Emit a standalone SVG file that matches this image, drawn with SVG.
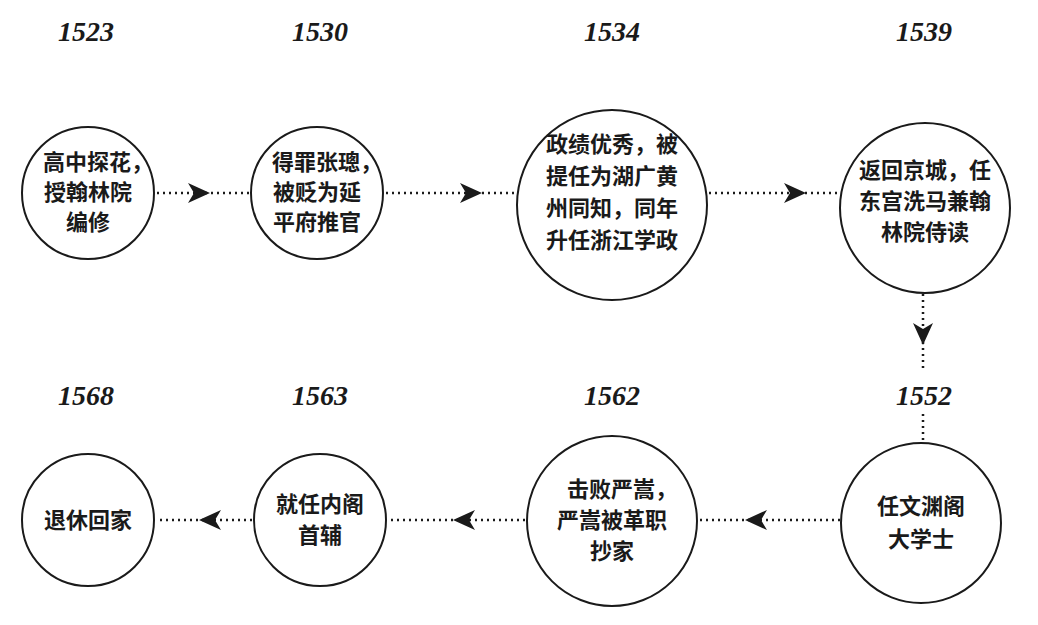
<svg xmlns="http://www.w3.org/2000/svg" width="1038" height="625" viewBox="0 0 1038 625">
<style>
.c{fill:#fff;stroke:#1a1a1a;stroke-width:2}
.t{font-family:"Noto Sans CJK SC",serif;font-weight:bold;font-size:22px;fill:#1a1a1a;text-anchor:middle}
.y{font-family:"Liberation Serif",serif;font-weight:bold;font-style:italic;font-size:28px;fill:#1a1a1a;text-anchor:middle}
.l{stroke:#1a1a1a;stroke-width:2.5;stroke-dasharray:2 4;fill:none}
</style>
<defs>
<path id="ah" d="M0 0 L-22 -10 L-16 0 L-22 10 Z" fill="#1a1a1a"/>
</defs>
<rect width="1038" height="625" fill="#fff"/>
<g id="years">
<text class="y" x="86" y="41">1523</text>
<text class="y" x="320" y="41">1530</text>
<text class="y" x="612" y="41">1534</text>
<text class="y" x="924" y="41">1539</text>
<text class="y" x="86" y="405">1568</text>
<text class="y" x="320" y="405">1563</text>
<text class="y" x="612" y="405">1562</text>
<text class="y" x="924" y="405">1552</text>
</g>
<g id="connectors">
<line class="l" x1="157" y1="193" x2="250" y2="193"/><use href="#ah" transform="translate(210,193)"/>
<line class="l" x1="386" y1="193" x2="517" y2="193"/><use href="#ah" transform="translate(482,193)"/>
<line class="l" x1="709" y1="193" x2="840" y2="193"/><use href="#ah" transform="translate(806,193)"/>
<line class="l" x1="923" y1="294" x2="923" y2="372"/><line class="l" x1="923" y1="414" x2="923" y2="442"/><use href="#ah" transform="translate(923,345) rotate(90)"/>
<line class="l" x1="840" y1="520" x2="699" y2="520"/><use href="#ah" transform="translate(745,520) rotate(180)"/>
<line class="l" x1="525" y1="520" x2="389" y2="520"/><use href="#ah" transform="translate(453,520) rotate(180)"/>
<line class="l" x1="252" y1="520" x2="157" y2="520"/><use href="#ah" transform="translate(199,520) rotate(180)"/>
</g>
<g id="n1"><circle class="c" cx="88" cy="193" r="66"/>
<text class="t" x="98" y="170">高中探花，</text><text class="t" x="88" y="200">授翰林院</text><text class="t" x="88" y="230">编修</text></g>
<g id="n2"><circle class="c" cx="317" cy="193" r="66"/>
<text class="t" x="327" y="170">得罪张璁，</text><text class="t" x="317" y="200">被贬为延</text><text class="t" x="317" y="230">平府推官</text></g>
<g id="n3"><circle class="c" cx="612" cy="205" r="95"/>
<text class="t" x="612" y="152">政绩优秀，被</text><text class="t" x="612" y="184">提任为湖广黄</text><text class="t" x="612" y="216">州同知，同年</text><text class="t" x="612" y="248">升任浙江学政</text></g>
<g id="n4"><circle class="c" cx="925" cy="208" r="85"/>
<text class="t" x="925" y="178">返回京城，任</text><text class="t" x="925" y="209">东宫洗马兼翰</text><text class="t" x="925" y="240">林院侍读</text></g>
<g id="n5"><circle class="c" cx="921" cy="523" r="80"/>
<text class="t" x="921" y="514">任文渊阁</text><text class="t" x="921" y="547">大学士</text></g>
<g id="n6"><circle class="c" cx="612" cy="521" r="85"/>
<text class="t" x="622" y="497">击败严嵩，</text><text class="t" x="612" y="528">严嵩被革职</text><text class="t" x="612" y="559">抄家</text></g>
<g id="n7"><circle class="c" cx="320" cy="520" r="66"/>
<text class="t" x="320" y="512">就任内阁</text><text class="t" x="320" y="543">首辅</text></g>
<g id="n8"><circle class="c" cx="88" cy="520" r="66"/>
<text class="t" x="88" y="528">退休回家</text></g>
</svg>
